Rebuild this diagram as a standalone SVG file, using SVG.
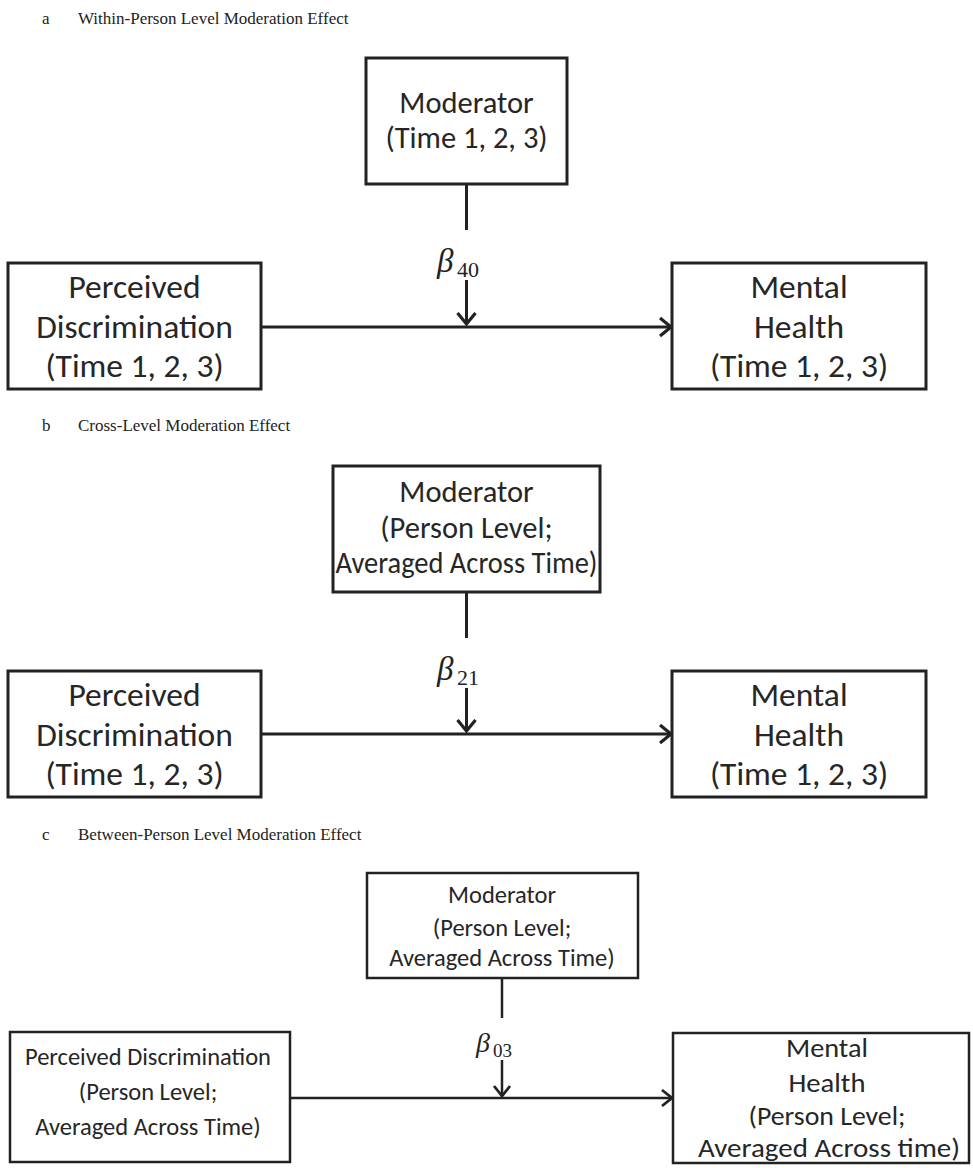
<svg xmlns="http://www.w3.org/2000/svg" width="973" height="1168" viewBox="0 0 973 1168">
<style>
.bg{fill:#fff}
.box{fill:#fff;stroke:#222;stroke-width:3}
.boxc{fill:#fff;stroke:#222;stroke-width:2.5}
.ln{stroke:#222;stroke-width:3;fill:none}
.lnc{stroke:#222;stroke-width:2.5;fill:none}
.t{font-family:Carlito,Lato,"Open Sans",sans-serif;fill:#262626;text-anchor:middle}
.big{font-size:33.5px}
.mod{font-size:30.5px}
.sm{font-size:24.5px}
.smr{font-size:26px}
.cap{font-family:"Liberation Serif","Times New Roman",serif;font-size:17px;fill:#222}
.beta{font-family:"Liberation Serif","DejaVu Serif",serif;font-style:italic;fill:#222}
.sub{font-family:"Liberation Serif","DejaVu Serif",serif;fill:#222}
</style>
<defs>
<marker id="ah" markerUnits="userSpaceOnUse" markerWidth="24" markerHeight="24" refX="12" refY="12" orient="auto" viewBox="0 0 24 24">
<path d="M1,3 L12,12 L1,21" fill="none" stroke="#222" stroke-width="3.2"/>
</marker>
<marker id="ahc" markerUnits="userSpaceOnUse" markerWidth="24" markerHeight="24" refX="12" refY="12" orient="auto" viewBox="0 0 24 24">
<path d="M2,4 L12,12 L2,20" fill="none" stroke="#222" stroke-width="2.8"/>
</marker>
</defs>
<rect class="bg" x="0" y="0" width="973" height="1168"/>

<!-- Panel a -->
<text class="cap" x="42" y="24">a</text>
<text class="cap" x="78" y="24">Within-Person Level Moderation Effect</text>

<g id="connectors-a">
<line class="ln" x1="466.5" y1="184" x2="466.5" y2="230"/>
<line class="ln" x1="466.5" y1="280" x2="466.5" y2="324" marker-end="url(#ah)"/>
<line class="ln" x1="261" y1="327" x2="671" y2="327" marker-end="url(#ah)"/>
<text class="beta" x="437" y="272" font-size="33">β</text>
<text class="sub" x="457" y="277" font-size="22">40</text>
</g>
<g id="a-moderator">
<rect class="box" x="366" y="58" width="201" height="126"/>
<text class="t mod" x="466.5" y="113">Moderator</text>
<text class="t mod" x="466.5" y="148">(Time 1, 2, 3)</text>
</g>
<g id="a-discrimination">
<rect class="box" x="8" y="263" width="253" height="126"/>
<text class="t big" x="134.5" y="298">Perceived</text>
<text class="t big" x="134.5" y="338">Discrimination</text>
<text class="t big" x="134.5" y="377">(Time 1, 2, 3)</text>
</g>
<g id="a-health">
<rect class="box" x="672" y="263" width="254" height="126"/>
<text class="t big" x="799" y="298">Mental</text>
<text class="t big" x="799" y="338">Health</text>
<text class="t big" x="799" y="377">(Time 1, 2, 3)</text>
</g>

<!-- Panel b -->
<text class="cap" x="42" y="431">b</text>
<text class="cap" x="78" y="431">Cross-Level Moderation Effect</text>

<g id="connectors-b">
<line class="ln" x1="466.5" y1="592" x2="466.5" y2="638"/>
<line class="ln" x1="466.5" y1="688" x2="466.5" y2="731" marker-end="url(#ah)"/>
<line class="ln" x1="261" y1="734" x2="671" y2="734" marker-end="url(#ah)"/>
<text class="beta" x="437" y="680" font-size="33">β</text>
<text class="sub" x="457" y="685" font-size="22">21</text>
</g>
<g id="b-moderator">
<rect class="box" x="333" y="466" width="267" height="126"/>
<text class="t mod" x="466.5" y="502">Moderator</text>
<text class="t mod" x="466.5" y="538">(Person Level;</text>
<text class="t mod" x="466.5" y="573" textLength="262" lengthAdjust="spacingAndGlyphs">Averaged Across Time)</text>
</g>
<g id="b-discrimination">
<rect class="box" x="8" y="671" width="253" height="126"/>
<text class="t big" x="134.5" y="706">Perceived</text>
<text class="t big" x="134.5" y="746">Discrimination</text>
<text class="t big" x="134.5" y="785">(Time 1, 2, 3)</text>
</g>
<g id="b-health">
<rect class="box" x="672" y="671" width="254" height="126"/>
<text class="t big" x="799" y="706">Mental</text>
<text class="t big" x="799" y="746">Health</text>
<text class="t big" x="799" y="785">(Time 1, 2, 3)</text>
</g>

<!-- Panel c -->
<text class="cap" x="42" y="840">c</text>
<text class="cap" x="78" y="840">Between-Person Level Moderation Effect</text>

<g id="connectors-c">
<line class="lnc" x1="502" y1="978" x2="502" y2="1018"/>
<line class="lnc" x1="502" y1="1060" x2="502" y2="1096" marker-end="url(#ahc)"/>
<line class="lnc" x1="290" y1="1098" x2="672" y2="1098" marker-end="url(#ahc)"/>
<text class="beta" x="476" y="1052" font-size="28">β</text>
<text class="sub" x="493" y="1057" font-size="19">03</text>
</g>
<g id="c-moderator">
<rect class="boxc" x="367" y="873" width="271" height="105"/>
<text class="t sm" x="502" y="903">Moderator</text>
<text class="t sm" x="502" y="936">(Person Level;</text>
<text class="t sm" x="502" y="966">Averaged Across Time)</text>
</g>
<g id="c-discrimination">
<rect class="boxc" x="10" y="1032" width="280" height="130"/>
<text class="t sm" x="148" y="1065">Perceived Discrimination</text>
<text class="t sm" x="148" y="1100">(Person Level;</text>
<text class="t sm" x="148" y="1135">Averaged Across Time)</text>
</g>
<g id="c-health">
<rect class="boxc" x="673" y="1033" width="296" height="130"/>
<text class="t smr" x="827" y="1057" textLength="82" lengthAdjust="spacingAndGlyphs">Mental</text>
<text class="t smr" x="827" y="1092" textLength="77" lengthAdjust="spacingAndGlyphs">Health</text>
<text class="t smr" x="827" y="1125" textLength="157" lengthAdjust="spacingAndGlyphs">(Person Level;</text>
<text class="t smr" x="829" y="1157" textLength="262" lengthAdjust="spacingAndGlyphs">Averaged Across time)</text>
</g>
</svg>
